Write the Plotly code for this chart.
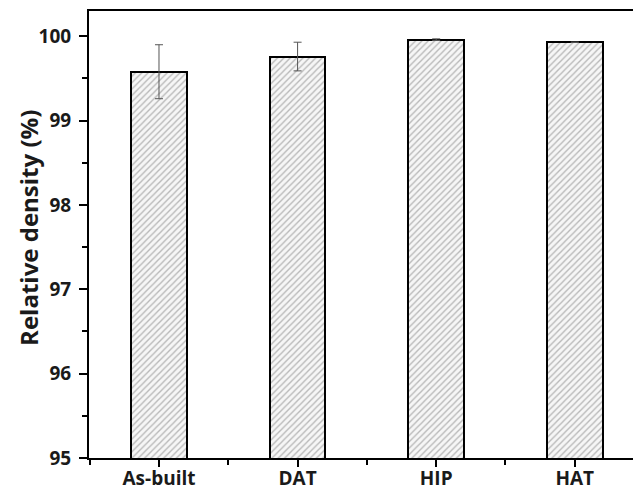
import plotly.graph_objects as go

# Relative density of the four processing conditions
conditions = ["As-built", "DAT", "HIP", "HAT"]
density = [99.58, 99.76, 99.96, 99.93]
density_err = [0.32, 0.17, 0.01, 0.0]
y_title = "Relative density (%)"

positions = list(range(len(conditions)))

fig = go.Figure(
    go.Bar(
        x=positions,
        y=density,
        width=0.40,
        marker=dict(
            color="white",
            line=dict(color="black", width=2),
            pattern=dict(shape="/", fgcolor="#7a7a7a", bgcolor="#f6f6f6",
                         size=4.5, solidity=0.3),
        ),
        error_y=dict(type="data", array=density_err, visible=True,
                     color="#555555", thickness=1, width=4),
        showlegend=False,
    )
)

bold = dict(family="Open Sans", color="#1a1a1a", weight="bold")

fig.update_layout(
    width=633,
    height=492,
    margin=dict(l=89, r=0, t=11, b=34),
    plot_bgcolor="white",
    paper_bgcolor="white",
    bargap=0,
)

fig.update_xaxes(
    range=[-0.505, 3.42],
    automargin=False,
    tickmode="array",
    tickvals=positions,
    ticktext=conditions,
    tickfont=dict(size=19, **bold),
    ticks="outside",
    ticklen=7,
    tickwidth=1.5,
    tickcolor="black",
    ticklabelstandoff=-5,
    minor=dict(tick0=0.5, dtick=1, ticks="outside", ticklen=5,
               tickwidth=1.5, tickcolor="black"),
    showline=True,
    linecolor="black",
    linewidth=2,
    mirror=True,
    showgrid=False,
    zeroline=False,
)

fig.update_yaxes(
    range=[95, 100.3],
    automargin=False,
    dtick=1,
    tick0=95,
    tickfont=dict(size=19, **bold),
    ticks="outside",
    ticklen=8,
    tickwidth=1.5,
    tickcolor="black",
    ticklabelstandoff=4,
    minor=dict(dtick=0.5, ticks="outside", ticklen=5, tickwidth=1.5,
               tickcolor="black"),
    showline=True,
    linecolor="black",
    linewidth=2,
    showgrid=False,
    zeroline=False,
)

# Vertical axis title placed as a rotated annotation left of the tick labels
fig.add_annotation(
    text=y_title,
    xref="paper", yref="paper",
    x=-0.11, y=0.515,
    xanchor="center", yanchor="middle",
    textangle=-90,
    showarrow=False,
    font=dict(size=24, **bold),
)

fig.write_html("out.html")
